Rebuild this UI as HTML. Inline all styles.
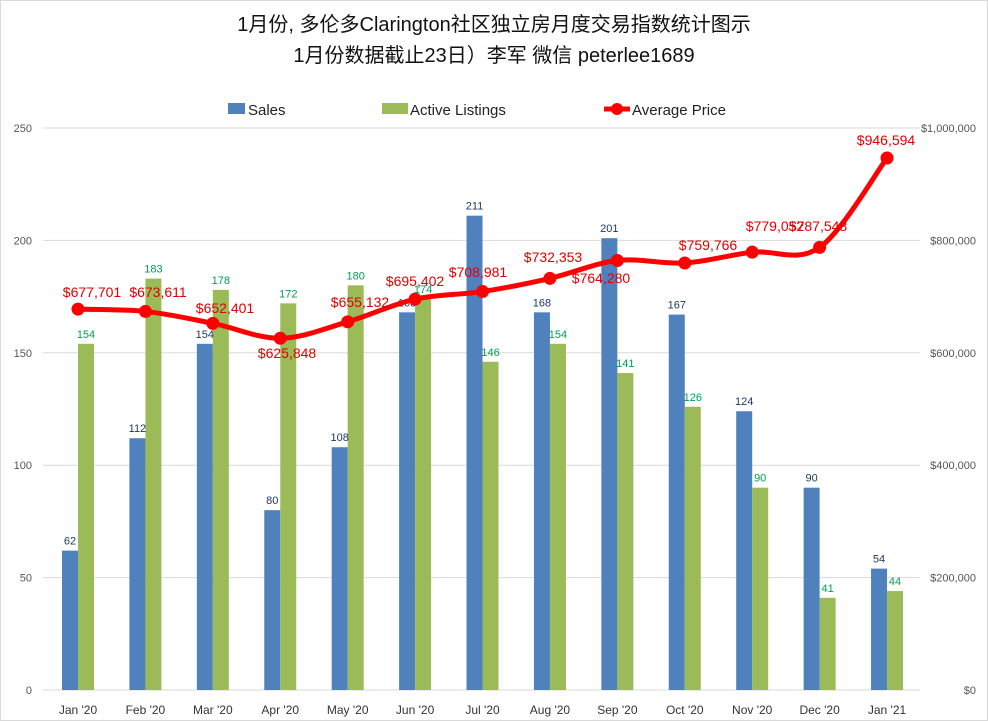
<!DOCTYPE html>
<html><head><meta charset="utf-8"><style>
body{margin:0;background:#fff}
svg{display:block;font-family:"Liberation Sans","Noto Sans CJK SC",sans-serif}
</style></head><body>
<svg id="s" width="988" height="721" xmlns="http://www.w3.org/2000/svg">
<rect x="0.5" y="0.5" width="987" height="720" fill="#fff" stroke="#d9d9d9"/>
<text x="494" y="31" text-anchor="middle" font-size="20" fill="#111">1月份, 多伦多Clarington社区独立房月度交易指数统计图示</text>
<text x="494" y="62" text-anchor="middle" font-size="20" fill="#111">1月份数据截止23日）李军  微信  peterlee1689</text>
<rect x="228" y="103" width="17" height="11" fill="#4f81bd"/>
<text x="248" y="115" font-size="15" fill="#222">Sales</text>
<rect x="382" y="103" width="26" height="11" fill="#9bbb59"/>
<text x="410" y="115" font-size="15" fill="#222">Active Listings</text>
<line x1="604" y1="109" x2="630" y2="109" stroke="#f00" stroke-width="5"/>
<circle cx="617" cy="109" r="6" fill="#f00"/>
<text x="632" y="115" font-size="15" fill="#222">Average Price</text>
<g id="g"></g>
</svg>
<script>
const g=document.getElementById('g');let h='';
const y0=690,pu=562/250;
for(let v=0;v<=250;v+=50){const y=y0-v*pu;
h+=`<line x1="43" x2="920" y1="${y}" y2="${y}" stroke="#d9d9d9"/>`;
h+=`<text x="32" y="${y+4}" font-size="11" fill="#555" text-anchor="end">${v}</text>`;
const p=v*4000;h+=`<text x="976" y="${y+4}" font-size="11" fill="#555" text-anchor="end">$${p.toLocaleString('en-US')}</text>`;}
const m=["Jan '20","Feb '20","Mar '20","Apr '20","May '20","Jun '20","Jul '20","Aug '20","Sep '20","Oct '20","Nov '20","Dec '20","Jan '21"];
const s=[62,112,154,80,108,168,211,168,201,167,124,90,54];
const a=[154,183,178,172,180,174,146,154,141,126,90,41,44];
const p=[677701,673611,652401,625848,655132,695402,708981,732353,764280,759766,779052,787548,946594];
const lp=[[92,292],[158,292],[225,308],[287,353],[360,302],[415,281],[478,272],[553,257],[601,278],[708,245],[775,226],[818,226],[886,140]];
const pts=[];
for(let i=0;i<13;i++){const c=78+67.42*i;
const hs=s[i]*pu,ha=a[i]*pu;
h+=`<rect x="${c-16}" y="${y0-hs}" width="16" height="${hs}" fill="#4f81bd"/>`;
h+=`<rect x="${c}" y="${y0-ha}" width="16" height="${ha}" fill="#9bbb59"/>`;
h+=`<text x="${c-8}" y="${y0-hs-6}" font-size="11" fill="#1f3864" text-anchor="middle">${s[i]}</text>`;
h+=`<text x="${c+8}" y="${y0-ha-6}" font-size="11" fill="#00a050" text-anchor="middle">${a[i]}</text>`;
h+=`<text x="${c}" y="714" font-size="12" fill="#333" text-anchor="middle">${m[i]}</text>`;
pts.push([c,y0-p[i]/1e6*562]);}
let d=`M${pts[0][0]},${pts[0][1]}`;
for(let i=0;i<12;i++){const p0=pts[Math.max(i-1,0)],p1=pts[i],p2=pts[i+1],p3=pts[Math.min(i+2,12)];
d+=` C${p1[0]+(p2[0]-p0[0])/6},${p1[1]+(p2[1]-p0[1])/6} ${p2[0]-(p3[0]-p1[0])/6},${p2[1]-(p3[1]-p1[1])/6} ${p2[0]},${p2[1]}`;}
h+=`<path d="${d}" fill="none" stroke="#f00" stroke-width="5" stroke-linejoin="round"/>`;
for(let i=0;i<13;i++){h+=`<circle cx="${pts[i][0]}" cy="${pts[i][1]}" r="6.5" fill="#f00"/>`;
h+=`<text x="${lp[i][0]}" y="${lp[i][1]+5}" font-size="14" fill="#e00000" text-anchor="middle">$${p[i].toLocaleString('en-US')}</text>`;}
g.innerHTML=h;
</script>
</body></html>
